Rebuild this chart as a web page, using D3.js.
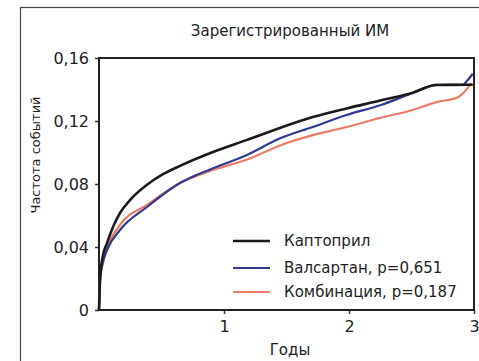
<!DOCTYPE html>
<html>
<head>
<meta charset="utf-8">
<script src="https://cdnjs.cloudflare.com/ajax/libs/d3/7.8.5/d3.min.js"></script>
<style>
  body { margin: 0; background: #fff; }
  text { font-family: "DejaVu Sans", "Liberation Sans", sans-serif; fill: #222; }
</style>
</head>
<body>
<div id="chart"></div>
<script>
// chart data
var seriesNames = ["Каптоприл", "Валсартан, p=0,651", "Комбинация, p=0,187"];
var seriesColors = ["#1b1b1b", "#2e3b8f", "#ec7b68"];

var captoprilT = [0, 0.01, 0.03, 0.064, 0.112, 0.168, 0.248, 0.384, 0.512, 0.648, 0.912, 1.184, 1.448, 1.71, 1.98, 2.25, 2.51, 2.70, 2.99];
var captoprilV = [0, 0.022, 0.034, 0.0425, 0.0527, 0.0616, 0.0698, 0.0795, 0.0862, 0.0915, 0.1003, 0.108, 0.1156, 0.1225, 0.128, 0.133, 0.138, 0.1429, 0.143];

var valsartanT = [0, 0.01, 0.03, 0.064, 0.168, 0.384, 0.648, 0.912, 1.184, 1.448, 1.71, 1.98, 2.25, 2.51, 2.70, 2.91, 2.95, 2.99];
var valsartanV = [0, 0.02, 0.03, 0.038, 0.0508, 0.0654, 0.0806, 0.090, 0.0984, 0.109, 0.1162, 0.1238, 0.130, 0.1378, 0.143, 0.143, 0.146, 0.150];

var combT = [0, 0.01, 0.032, 0.064, 0.168, 0.384, 0.648, 0.912, 1.184, 1.448, 1.71, 1.98, 2.25, 2.51, 2.70, 2.87, 2.98];
var combV = [0, 0.02, 0.030, 0.039, 0.054, 0.0667, 0.0806, 0.0889, 0.0955, 0.1045, 0.111, 0.1162, 0.122, 0.127, 0.132, 0.135, 0.144];

var yTicks = [0, 0.04, 0.08, 0.12, 0.16];
var xTicks = [1, 2, 3];

var svgWidth = 479;
var svgHeight = 361;

var margin = { top: 58, right: 5, bottom: 51, left: 99 };
var width = svgWidth - margin.left - margin.right;
var height = svgHeight - margin.top - margin.bottom;

var svg = d3.select("#chart")
  .append("svg")
  .attr("width", svgWidth)
  .attr("height", svgHeight);

// outer frame
svg.append("rect")
  .attr("x", 20.5)
  .attr("y", 7.5)
  .attr("width", 480)
  .attr("height", 380)
  .attr("fill", "none")
  .attr("stroke", "#444")
  .attr("stroke-width", 1.2);

svg.append("text")
  .attr("x", 290)
  .attr("y", 36)
  .attr("text-anchor", "middle")
  .attr("font-size", "15px")
  .text("Зарегистрированный ИМ");

var chartGroup = svg.append("g")
  .attr("transform", `translate(${margin.left}, ${margin.top})`);

var xScale = d3.scaleLinear().domain([0, 3]).range([0, width]);
var yScale = d3.scaleLinear().domain([0, 0.16]).range([height, 0]);

var fmt = d => d === 0 ? "0" : d3.format(".2f")(d).replace(".", ",");

var leftAxis = d3.axisLeft(yScale).tickValues(yTicks).tickFormat(fmt).tickSize(4).tickPadding(6);
var bottomAxis = d3.axisBottom(xScale).tickValues(xTicks).tickFormat(d3.format("d")).tickSize(4).tickPadding(7);

var yAxis = chartGroup.append("g").call(leftAxis);
var xAxis = chartGroup.append("g")
  .attr("transform", `translate(0, ${height})`)
  .call(bottomAxis);

[yAxis, xAxis].forEach(function(ax) {
  ax.select(".domain").remove();
  ax.selectAll("line").attr("stroke", "#333").attr("stroke-width", 1.5);
  ax.selectAll("text").attr("font-size", "16px").attr("fill", "#222");
});

// plot box
chartGroup.append("rect")
  .attr("x", 0)
  .attr("y", 0)
  .attr("width", width)
  .attr("height", height)
  .attr("fill", "none")
  .attr("stroke", "#222")
  .attr("stroke-width", 2);

var line = d3.line()
  .x(d => xScale(d[0]))
  .y(d => yScale(d[1]))
  .curve(d3.curveMonotoneX);

var series = [
  d3.zip(combT, combV),
  d3.zip(valsartanT, valsartanV),
  d3.zip(captoprilT, captoprilV)
];
var seriesOrder = [2, 1, 0];

series.forEach(function(s, i) {
  var k = seriesOrder[i];
  chartGroup.append("path")
    .datum(s)
    .attr("fill", "none")
    .attr("stroke", seriesColors[k])
    .attr("stroke-width", k === 0 ? 2.6 : 2.2)
    .attr("d", line);
});

// legend
var legendY = [241, 268, 292];
seriesNames.forEach(function(name, i) {
  svg.append("line")
    .attr("x1", 233).attr("x2", 270)
    .attr("y1", legendY[i]).attr("y2", legendY[i])
    .attr("stroke", seriesColors[i])
    .attr("stroke-width", i === 0 ? 2.6 : 2.2);
  svg.append("text")
    .attr("x", 284)
    .attr("y", legendY[i] + 5)
    .attr("font-size", "15px")
    .text(name);
});

svg.append("text")
  .attr("x", 290)
  .attr("y", 355)
  .attr("text-anchor", "middle")
  .attr("font-size", "15px")
  .text("Годы");

svg.append("text")
  .attr("transform", "translate(40, 155) rotate(-90)")
  .attr("text-anchor", "middle")
  .attr("font-size", "13px")
  .text("Частота событий");
</script>
</body>
</html>
